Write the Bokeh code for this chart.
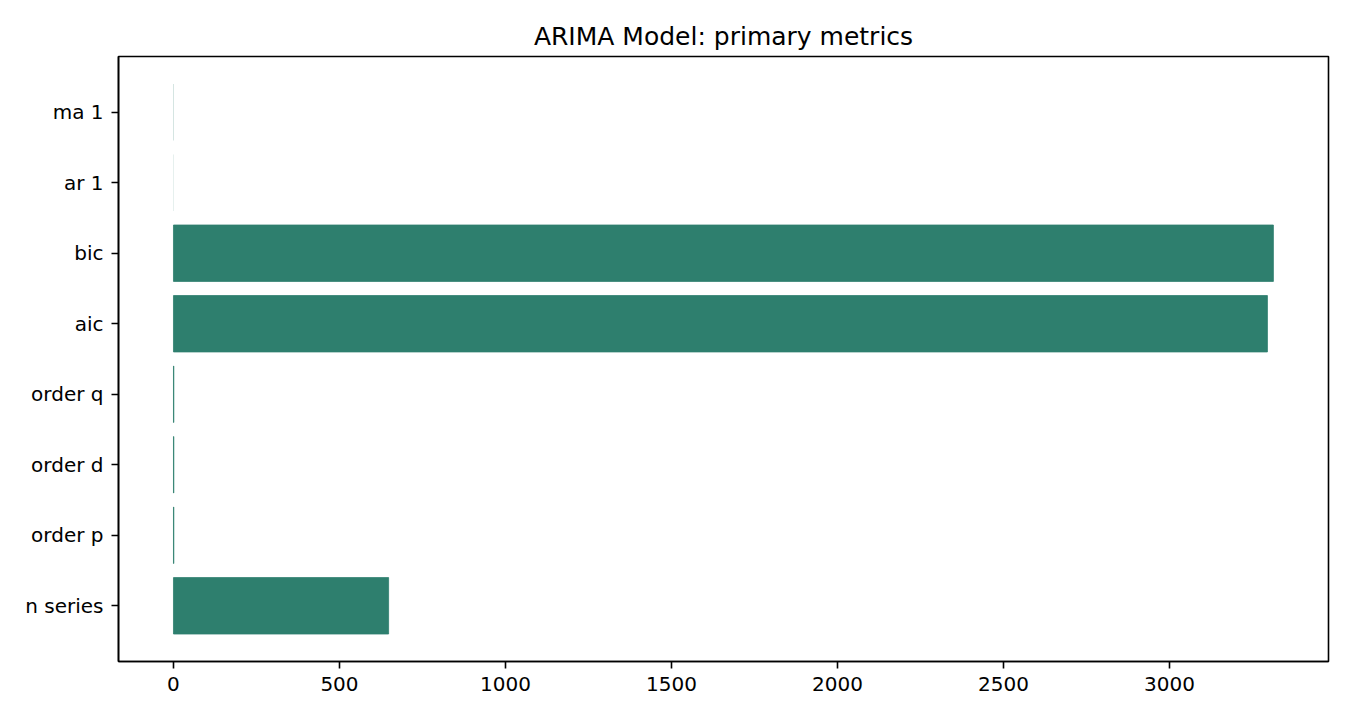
from bokeh.embed import file_html
from bokeh.models import ColumnDataSource, FixedTicker, Range1d
from bokeh.plotting import figure
from bokeh.resources import INLINE

metrics = ["n series", "order p", "order d", "order q", "aic", "bic", "ar 1", "ma 1"]
values = [648, 1, 1, 1, 3295, 3313, 0.35, -0.6]
x_ticks = [0, 500, 1000, 1500, 2000, 2500, 3000]

BAR = "#2e7f6e"
ypos = list(range(len(metrics)))
# thin bars (~1 unit) get a hairline edge like the original renderer snaps them to
edges = [BAR if abs(v) >= 1 else None for v in values]
src = ColumnDataSource(data=dict(y=ypos, right=values, name=metrics, edge=edges))

p = figure(frame_width=1210, frame_height=605,
           min_border_left=118, min_border_right=6,
           min_border_top=56, min_border_bottom=43,
           x_range=Range1d(-165.6, 3479), y_range=Range1d(-0.79, 7.79),
           title="ARIMA Model: primary metrics",
           output_backend="svg", toolbar_location=None)

p.hbar(y="y", left=0, right="right", height=0.8, source=src,
       fill_color=BAR, line_color="edge", line_width=0.8)

p.title.align = "center"
p.title.text_font = "DejaVu Sans"
p.title.text_font_size = "25px"
p.title.text_font_style = "normal"
p.title.text_color = "black"
p.title.offset = 0
p.title.standoff = 11

p.xgrid.visible = False
p.ygrid.visible = False
p.outline_line_color = "black"
p.outline_line_width = 1.6
p.background_fill_color = "white"
p.border_fill_color = "white"

p.xaxis.ticker = FixedTicker(ticks=x_ticks)
p.yaxis.ticker = FixedTicker(ticks=ypos)
p.yaxis.major_label_overrides = {i: m for i, m in enumerate(metrics)}

for ax in (p.xaxis[0], p.yaxis[0]):
    ax.axis_line_color = "black"
    ax.axis_line_width = 1.6
    ax.major_tick_line_color = "black"
    ax.major_tick_line_width = 1.6
    ax.major_tick_out = 7
    ax.major_tick_in = 0
    ax.minor_tick_line_color = None
    ax.major_label_text_font = "DejaVu Sans"
    ax.major_label_text_font_size = "20px"
    ax.major_label_text_color = "black"
    ax.major_label_standoff = 8

open("out.html", "w").write(file_html(p, INLINE))
